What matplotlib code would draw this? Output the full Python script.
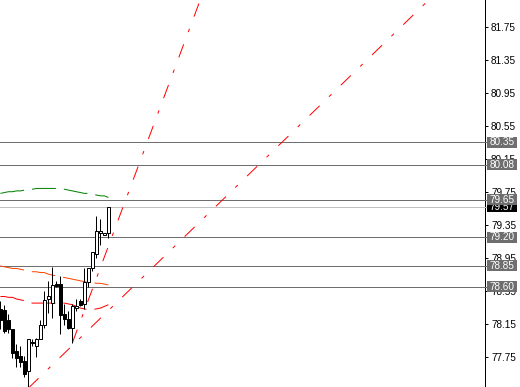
import matplotlib
matplotlib.use('Agg')
import matplotlib.pyplot as plt
import matplotlib.transforms as mtransforms
from matplotlib.patches import Rectangle
from matplotlib.lines import Line2D

# ---------------- data ----------------
opens  = [78.33, 78.32, 78.19, 78.08, 77.82, 77.76, 77.70, 77.58, 77.93, 77.88,
          77.97, 78.13, 78.45, 78.40, 78.63, 78.63, 78.27, 78.21, 78.10, 78.34,
          78.42, 78.39, 78.65, 78.83, 79.00, 79.25, 79.23, 79.25]
highs  = [78.43, 78.38, 78.27, 78.08, 77.91, 77.88, 77.76, 77.97, 77.96, 77.98,
          78.19, 78.55, 78.67, 78.84, 78.67, 78.73, 78.39, 78.31, 78.39, 78.45,
          78.45, 78.83, 78.83, 79.02, 79.45, 79.42, 79.25, 79.57]
lows   = [78.09, 78.04, 78.04, 77.74, 77.62, 77.62, 77.51, 77.37, 77.88, 77.75,
          77.96, 78.10, 78.28, 78.22, 78.59, 78.03, 78.13, 78.09, 77.92, 78.31,
          78.36, 78.33, 78.59, 78.79, 78.95, 79.10, 79.22, 79.19]
closes = [78.19, 78.06, 78.09, 77.80, 77.74, 77.68, 77.54, 77.97, 77.92, 77.96,
          78.13, 78.44, 78.48, 78.62, 78.61, 78.25, 78.21, 78.10, 78.36, 78.37,
          78.38, 78.65, 78.83, 79.02, 79.27, 79.28, 79.25, 79.57]

ma_green  = [79.73, 79.74, 79.75, 79.75, 79.76, 79.76, 79.77, 79.77, 79.78, 79.79,
             79.79, 79.79, 79.79, 79.79, 79.79, 79.79, 79.78, 79.77, 79.76, 79.75,
             79.74, 79.73, 79.73, 79.72, 79.71, 79.70, 79.70, 79.68]
ma_orange = [78.85, 78.84, 78.83, 78.82, 78.82, 78.81, 78.80, 78.79, 78.78, 78.78,
             78.77, 78.77, 78.75, 78.74, 78.73, 78.72, 78.71, 78.70, 78.69, 78.68,
             78.67, 78.66, 78.65, 78.65, 78.64, 78.64, 78.63, 78.62]
ma_red    = [78.48, 78.48, 78.47, 78.47, 78.45, 78.44, 78.43, 78.42, 78.40, 78.40,
             78.40, 78.40, 78.40, 78.40, 78.40, 78.40, 78.40, 78.39, 78.38, 78.36,
             78.34, 78.33, 78.32, 78.32, 78.33, 78.34, 78.36, 78.38]

# trend lines: (bar1, price1, bar2, price2) -> rays to the right
trend_lines = [(7, 77.37, 27, 78.31),
               (18, 77.92, 27, 79.09)]

# horizontal levels (price, line colour, label background)
hlevels = [79.57, 80.35, 80.08, 79.65, 79.20, 78.85, 78.60]
hcolors = ['#c0c0c0', '#6e6e6e', '#6e6e6e', '#6e6e6e', '#6e6e6e', '#6e6e6e', '#6e6e6e']
hboxes  = ['#000000', '#6e6e6e', '#6e6e6e', '#6e6e6e', '#6e6e6e', '#6e6e6e', '#6e6e6e']

yticks = [81.75, 81.35, 80.95, 80.55, 80.15, 79.75, 79.35, 78.95, 78.55, 78.15, 77.75]

# ---------------- figure ----------------
W, H = 520, 387
AX_R = 485
LW = 0.72  # one pixel at 100 dpi
fig = plt.figure(figsize=(W / 100, H / 100), dpi=100)
fig.patch.set_facecolor('white')
ax = fig.add_axes([0, 0, AX_R / W, 1])
ax.set_facecolor('white')
ax.set_xlim(-0.1, 121.15)
ax.set_ylim(77.383, 82.074)

for s in ['left', 'top', 'bottom']:
    ax.spines[s].set_visible(False)
ax.spines['right'].set_color('black')
ax.spines['right'].set_linewidth(LW)
ax.set_xticks([])
ax.yaxis.tick_right()
ax.set_yticks(yticks)
ax.set_yticklabels([f'{t:.2f}' for t in yticks], family='Liberation Sans')
ax.tick_params(axis='y', direction='out', length=2.2, width=LW, pad=2.2,
               labelsize=7.2, colors='black')

# horizontal lines
for lv, c in zip(hlevels, hcolors):
    ax.axhline(lv, color=c, lw=LW, zorder=1)

# moving averages
xs = list(range(len(ma_green)))
dash = (0, (24, 8))
ax.plot(xs, ma_green, color='#008000', lw=LW, ls=dash, zorder=2)
ax.plot(xs, ma_orange, color='#ff4500', lw=LW, ls=dash, zorder=2)
ax.plot(xs, ma_red, color='#ff0000', lw=LW, ls=dash, zorder=2)

# trend lines
x_end = 121.15
for b1, p1, b2, p2 in trend_lines:
    slope = (p2 - p1) / (b2 - b1)
    ax.plot([b1, x_end], [p1, p1 + slope * (x_end - b1)], color='#ff0000',
            lw=LW, ls=(0, (14, 13, 3.5, 13)), zorder=3)

# candles
bw = 0.75
for i, (o, h, l, c) in enumerate(zip(opens, highs, lows, closes)):
    ax.vlines(i, l, h, color='black', lw=LW, zorder=4)
    bottom = min(o, c)
    height = max(abs(c - o), 0.012)
    fc = 'white' if c >= o else 'black'
    ax.add_patch(Rectangle((i - bw / 2, bottom), bw, height, facecolor=fc,
                           edgecolor='black', lw=LW, zorder=5))

# price labels for the horizontal lines (drawn in pixel coordinates)
fig.canvas.draw()
ident = mtransforms.IdentityTransform()
for k, (lv, c, bc) in enumerate(zip(hlevels, hcolors, hboxes)):
    yd = ax.transData.transform((0, lv))[1]
    fig.add_artist(Line2D([AX_R, 488], [yd, yd], color=c, lw=LW, transform=ident,
                          zorder=10 + 2 * k))
    fig.add_artist(Rectangle((487, yd - 5.5), 30, 11, facecolor=bc, edgecolor='none',
                             transform=ident, zorder=10 + 2 * k))
    fig.text(502 / W, yd / H, f'{lv:.2f}', color='white', ha='center', va='center',
             fontsize=7.2, family='Liberation Sans', zorder=11 + 2 * k)

fig.savefig('out.png', dpi=100)
